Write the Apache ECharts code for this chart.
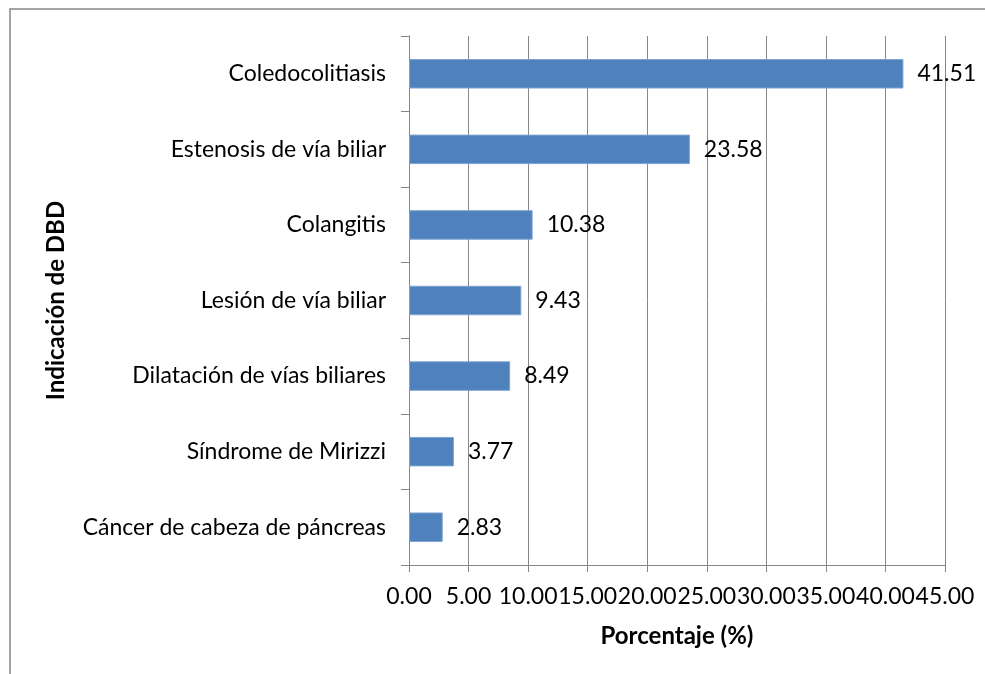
<!DOCTYPE html>
<html>
<head>
<meta charset="utf-8">
<script src="https://cdn.jsdelivr.net/npm/echarts@6/dist/echarts.min.js"></script>
<style>
html,body{margin:0;padding:0;background:#fff;}
#chart{width:985px;height:674px;}
</style>
</head>
<body>
<div id="chart"></div>
<script>
const categories = [
  "Coledocolitiasis",
  "Estenosis de vía biliar",
  "Colangitis",
  "Lesión de vía biliar",
  "Dilatación de vías biliares",
  "Síndrome de Mirizzi",
  "Cáncer de cabeza de páncreas"
];
const values = [41.51, 23.58, 10.38, 9.43, 8.49, 3.77, 2.83];
const xTitle = "Porcentaje (%)";
const yTitle = "Indicación de DBD";

const FONT = "Lato";
const FS = 23;
const TFS = 24;
const GRAY = "#868686";

const chart = echarts.init(document.getElementById('chart'), null, {renderer: 'canvas'});
chart.setOption({
  animation: false,
  backgroundColor: '#ffffff',
  textStyle: {fontFamily: FONT},
  graphic: [{
    type: 'rect',
    shape: {x: 10, y: 9, width: 1000, height: 700},
    style: {fill: 'none', stroke: GRAY, lineWidth: 1.5},
    silent: true,
    z: -1
  }],
  grid: {left: 409, right: 40, top: 36, bottom: 109, containLabel: false},
  xAxis: {
    type: 'value',
    min: 0, max: 45, interval: 5,
    name: xTitle,
    nameLocation: 'middle',
    nameGap: 59,
    nameTextStyle: {fontFamily: FONT, fontSize: TFS, fontWeight: 'bold', color: '#000'},
    axisLine: {show: true, lineStyle: {color: GRAY, width: 1}},
    axisTick: {show: true, length: 7, inside: false, lineStyle: {color: GRAY, width: 1}},
    splitLine: {show: true, lineStyle: {color: GRAY, width: 1}},
    axisLabel: {
      fontFamily: FONT, fontSize: FS, color: '#000', margin: 20,
      formatter: v => v.toFixed(2)
    }
  },
  yAxis: {
    type: 'category',
    data: categories,
    inverse: true,
    name: yTitle,
    nameLocation: 'middle',
    nameGap: 341,
    nameRotate: 90,
    nameTextStyle: {fontFamily: FONT, fontSize: TFS, fontWeight: 'bold', color: '#000'},
    axisLine: {show: true, lineStyle: {color: GRAY, width: 1}},
    axisTick: {show: true, length: 8, inside: false, alignWithLabel: false, lineStyle: {color: GRAY, width: 1}},
    splitLine: {show: false},
    axisLabel: {fontFamily: FONT, fontSize: FS, color: '#000', margin: 23}
  },
  series: [{
    type: 'bar',
    data: values,
    barWidth: '39%',
    itemStyle: {color: '#4F81BD', borderColor: '#7DA2D2', borderWidth: 1},
    label: {
      show: true, position: 'right', distance: 14,
      fontFamily: FONT, fontSize: FS, color: '#000',
      formatter: p => p.value.toFixed(2)
    }
  }]
});
</script>
</body>
</html>
